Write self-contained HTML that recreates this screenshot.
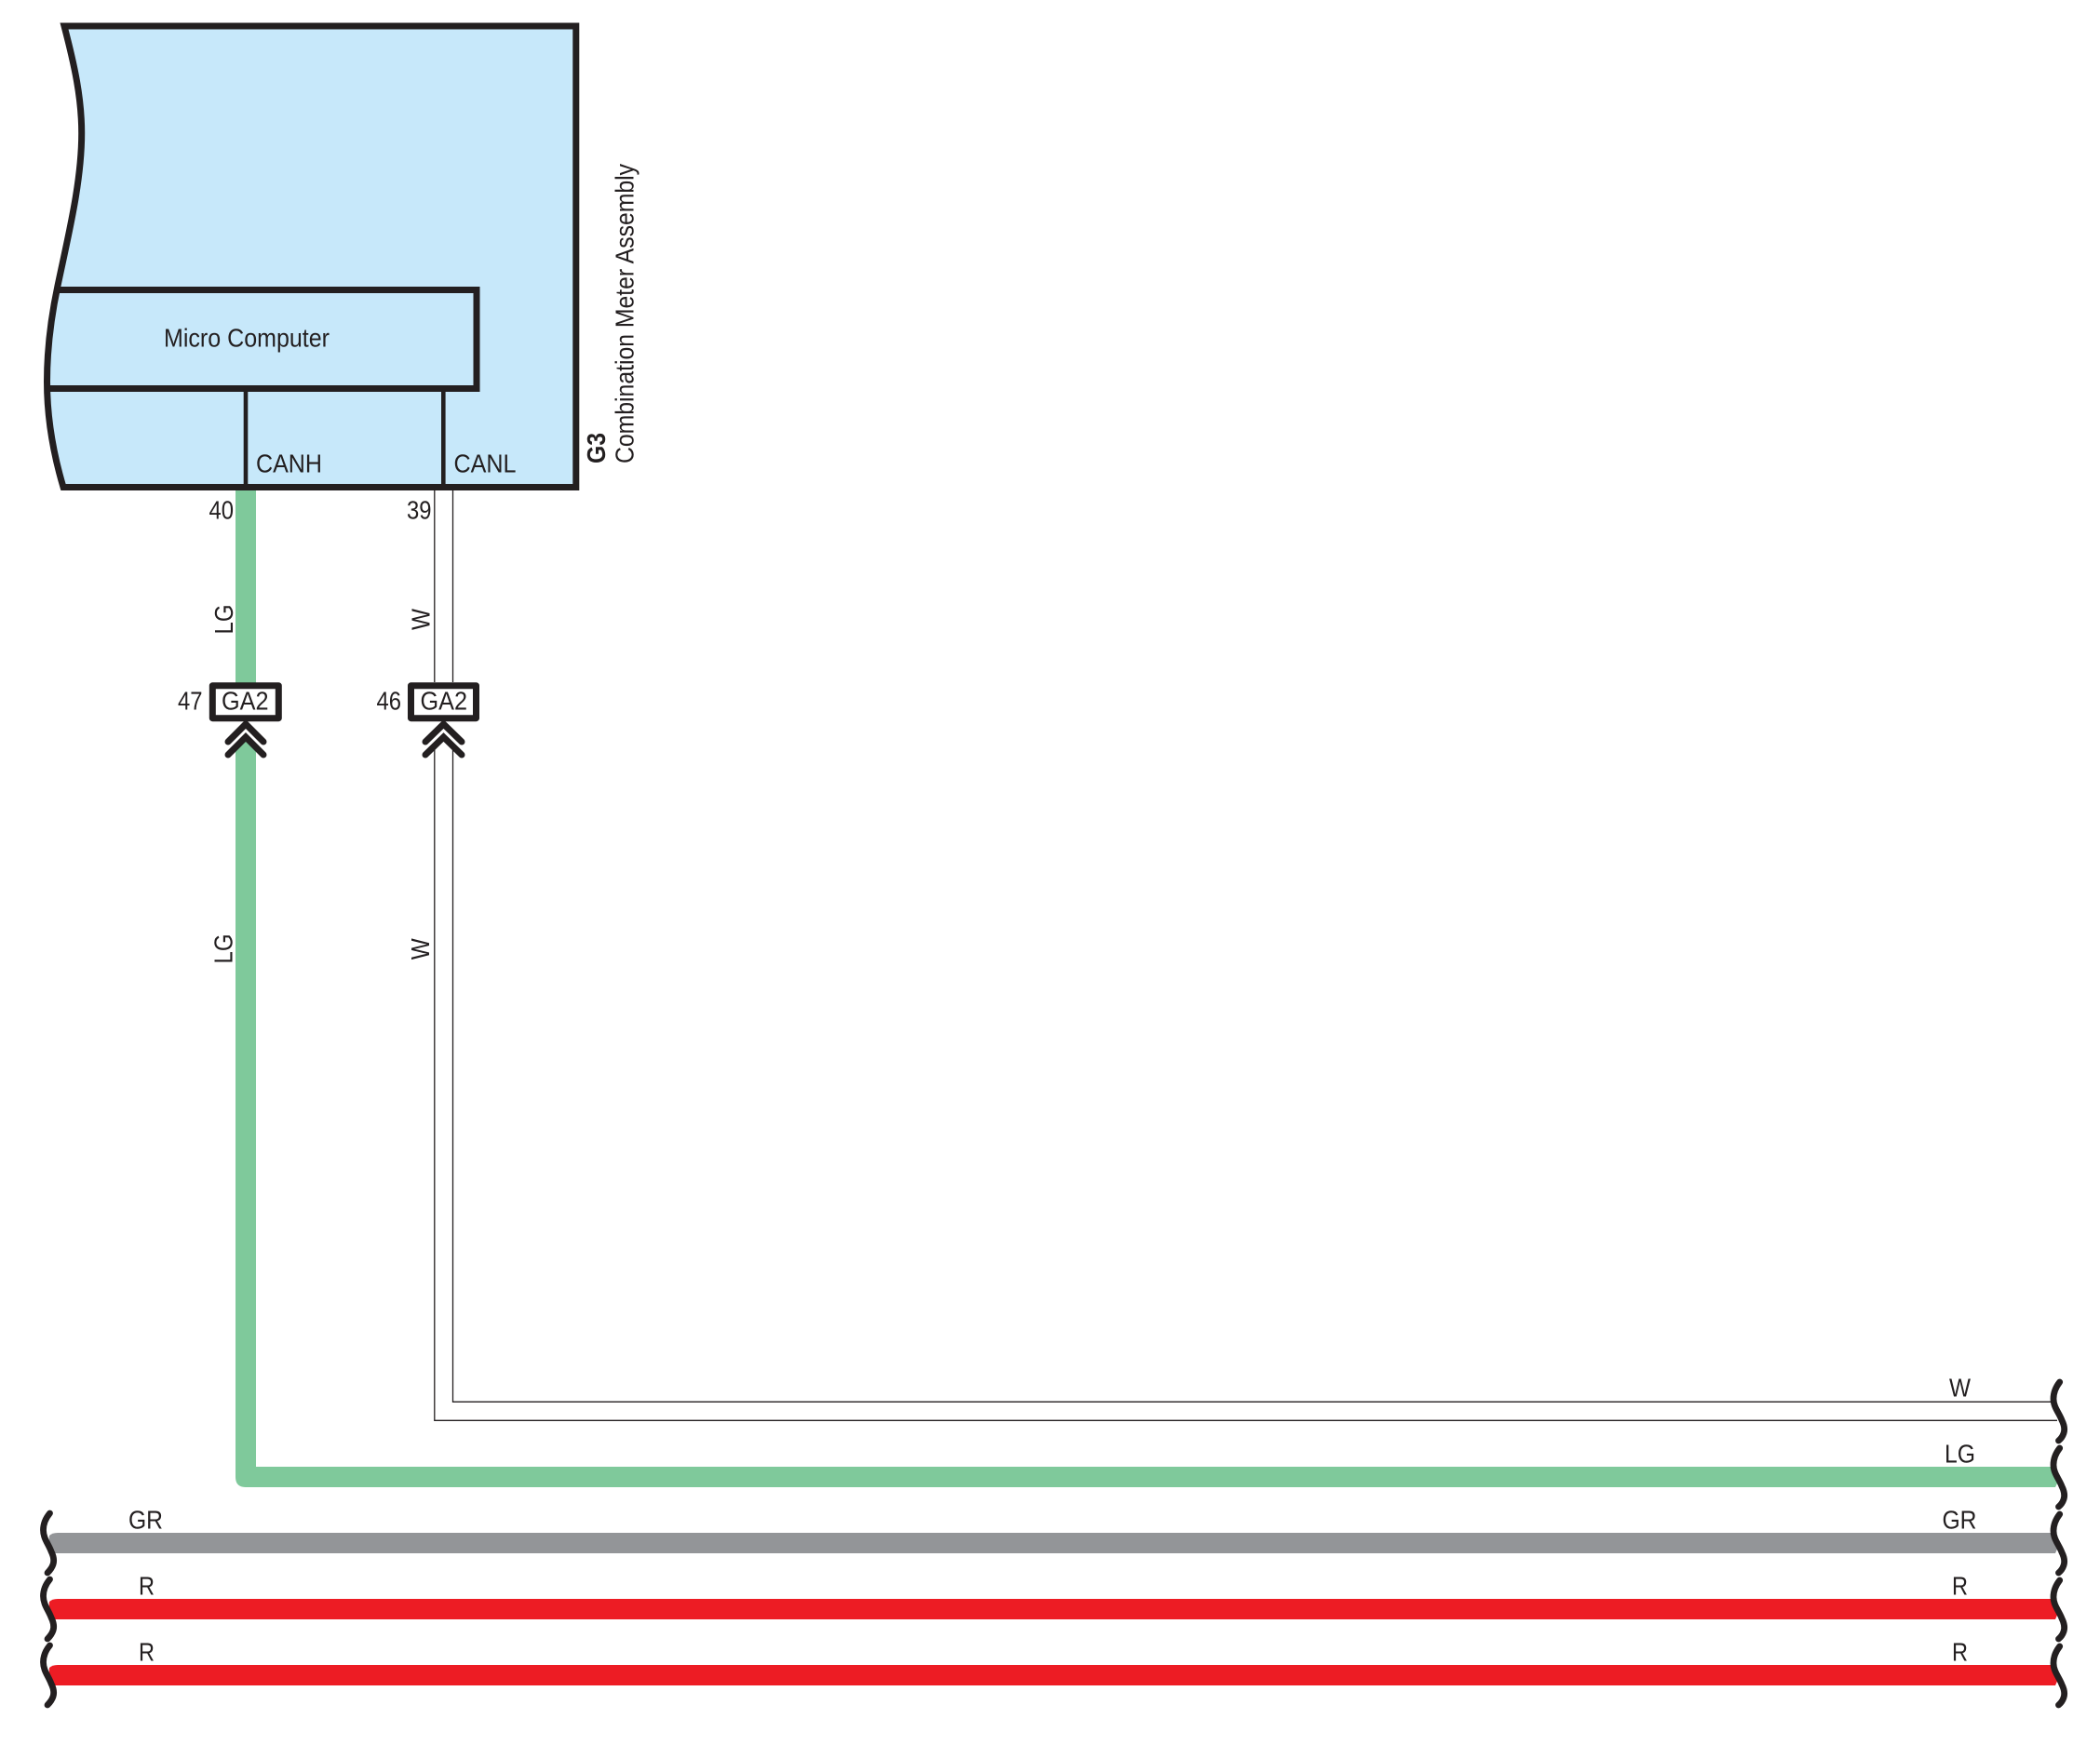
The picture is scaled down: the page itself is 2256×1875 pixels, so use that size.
<!DOCTYPE html>
<html>
<head>
<meta charset="utf-8">
<style>
html,body{margin:0;padding:0;background:#fff;width:2256px;height:1875px;overflow:hidden}
svg{display:block}
text{font-family:"Liberation Sans",sans-serif;font-size:28px;fill:#231f20}
</style>
</head>
<body>
<svg xmlns="http://www.w3.org/2000/svg" width="2256" height="1875" viewBox="0 0 2256 1875">
<rect width="2256" height="1875" fill="#fff"/>

<!-- Thin white wires -->
<g fill="none" stroke="#231f20" stroke-width="1.3">
<path d="M466.8,527V733M486.5,527V733"/>
<path d="M466.8,802V1526.3H2210"/>
<path d="M486.5,802V1506.3H2208"/>
</g>

<!-- Thick wires -->
<path d="M264,527V736" fill="none" stroke="#7fc99b" stroke-width="22"/>
<path d="M264,792L275,804V1576H2205Q2212,1578 2212,1590L2208,1598H264Q253,1598 253,1587V804Z" fill="#7fc99b"/>
<path d="M62,1647H2205Q2212,1649 2212,1660L2208,1669H56Q52,1660 53,1650Q56,1647 62,1647Z" fill="#939598"/>
<path d="M62,1718H2205Q2212,1720 2212,1731L2208,1740H56Q52,1731 53,1721Q56,1718 62,1718Z" fill="#ed1c24"/>
<path d="M62,1789H2205Q2212,1791 2212,1802L2208,1811H56Q52,1802 53,1792Q56,1789 62,1789Z" fill="#ed1c24"/>

<!-- Combination meter box -->
<path d="M69,28H618.8V523.5H68C58,490 50.5,450 50.5,410C50.5,375 55,340 62,307C74,250 87.7,195 87.7,143C87.7,105 80,70 69,28Z" fill="#c7e8fa" stroke="#231f20" stroke-width="7" stroke-linejoin="miter"/>
<path d="M60,311.5H512V417.5H50" fill="none" stroke="#231f20" stroke-width="7"/>
<path d="M264,417.5V523M476.3,417.5V523" fill="none" stroke="#231f20" stroke-width="4.6"/>

<!-- Connectors -->
<g fill="#fff" stroke="#231f20" stroke-width="7" stroke-linejoin="round">
<rect x="228.3" y="736.7" width="71" height="35"/>
<rect x="441.5" y="736.7" width="70" height="35"/>
</g>
<g fill="none" stroke="#231f20" stroke-width="7" stroke-linecap="round" stroke-linejoin="miter">
<path d="M245,797L264,778L283,797M245,811L264,792L283,811"/>
<path d="M457,797L476.5,778L496,797M457,811L476.5,792L496,811"/>
</g>

<!-- Squiggles -->
<g fill="none" stroke="#231f20" stroke-width="6.8" stroke-linecap="round">
<path d="M2212.7,1485C2208,1491 2206,1497 2206,1503C2206,1512 2212,1518 2215,1526C2218,1532 2218,1537 2217,1540C2216,1543 2214,1546 2211.5,1548"/>
<path d="M2212.7,1556C2208,1562 2206,1568 2206,1574C2206,1583 2212,1589 2215,1597C2218,1603 2218,1608 2217,1611C2216,1614 2214,1617 2211.5,1619"/>
<path d="M2212.7,1627C2208,1633 2206,1639 2206,1645C2206,1654 2212,1660 2215,1668C2218,1674 2218,1679 2217,1682C2216,1685 2214,1688 2211.5,1690"/>
<path d="M2212.7,1698C2208,1704 2206,1710 2206,1716C2206,1725 2212,1731 2215,1739C2218,1745 2218,1750 2217,1753C2216,1756 2214,1759 2211.5,1761"/>
<path d="M2212.7,1769C2208,1775 2206,1781 2206,1787C2206,1796 2212,1802 2215,1810C2218,1816 2218,1821 2217,1824C2216,1827 2214,1830 2211.5,1832"/>
<path d="M53.5,1626C48.5,1632 46.5,1638 46.5,1644C46.5,1653 52,1659 55,1667C58,1673 58,1678 57,1681C56,1684 54,1687 51,1690"/>
<path d="M53.5,1697C48.5,1703 46.5,1709 46.5,1715C46.5,1724 52,1730 55,1738C58,1744 58,1749 57,1752C56,1755 54,1758 51,1761"/>
<path d="M53.5,1768C48.5,1774 46.5,1780 46.5,1786C46.5,1795 52,1801 55,1809C58,1815 58,1820 57,1823C56,1826 54,1829 51,1832"/>
</g>

<!-- Box labels -->
<text x="176" y="372.7" textLength="178" lengthAdjust="spacingAndGlyphs">Micro Computer</text>
<text x="275" y="507.5" textLength="71" lengthAdjust="spacingAndGlyphs">CANH</text>
<text x="487.5" y="507.5" textLength="67" lengthAdjust="spacingAndGlyphs">CANL</text>
<text transform="translate(650,498) rotate(-90)" textLength="33" lengthAdjust="spacingAndGlyphs" style="font-weight:bold">G3</text>
<text transform="translate(680.5,498) rotate(-90)" textLength="322" lengthAdjust="spacingAndGlyphs">Combination Meter Assembly</text>

<!-- Pin numbers -->
<text x="224.5" y="557.3" textLength="26.5" lengthAdjust="spacingAndGlyphs">40</text>
<text x="437" y="557.3" textLength="26.5" lengthAdjust="spacingAndGlyphs">39</text>
<text x="191" y="762.3" textLength="26.5" lengthAdjust="spacingAndGlyphs">47</text>
<text x="404.5" y="762.3" textLength="26.5" lengthAdjust="spacingAndGlyphs">46</text>

<!-- Connector names -->
<text x="238" y="762.3" textLength="50.5" lengthAdjust="spacingAndGlyphs">GA2</text>
<text x="451.5" y="762.3" textLength="50.5" lengthAdjust="spacingAndGlyphs">GA2</text>

<!-- Rotated wire labels -->
<text transform="translate(249.8,681.5) rotate(-90)" textLength="32" lengthAdjust="spacingAndGlyphs">LG</text>
<text transform="translate(461.5,677) rotate(-90)" textLength="23" lengthAdjust="spacingAndGlyphs">W</text>
<text transform="translate(249.3,1035.5) rotate(-90)" textLength="32" lengthAdjust="spacingAndGlyphs">LG</text>
<text transform="translate(460.8,1031.3) rotate(-90)" textLength="23" lengthAdjust="spacingAndGlyphs">W</text>

<!-- Right labels -->
<text x="2094" y="1500.7" textLength="23" lengthAdjust="spacingAndGlyphs">W</text>
<text x="2089" y="1571.7" textLength="33" lengthAdjust="spacingAndGlyphs">LG</text>
<text x="2086.5" y="1642.7" textLength="37" lengthAdjust="spacingAndGlyphs">GR</text>
<text x="2097" y="1713.5" textLength="17" lengthAdjust="spacingAndGlyphs">R</text>
<text x="2097" y="1784.3" textLength="17" lengthAdjust="spacingAndGlyphs">R</text>

<!-- Left labels -->
<text x="138" y="1642.7" textLength="37" lengthAdjust="spacingAndGlyphs">GR</text>
<text x="149" y="1713.5" textLength="17" lengthAdjust="spacingAndGlyphs">R</text>
<text x="149" y="1784.3" textLength="17" lengthAdjust="spacingAndGlyphs">R</text>
</svg>
</body>
</html>
